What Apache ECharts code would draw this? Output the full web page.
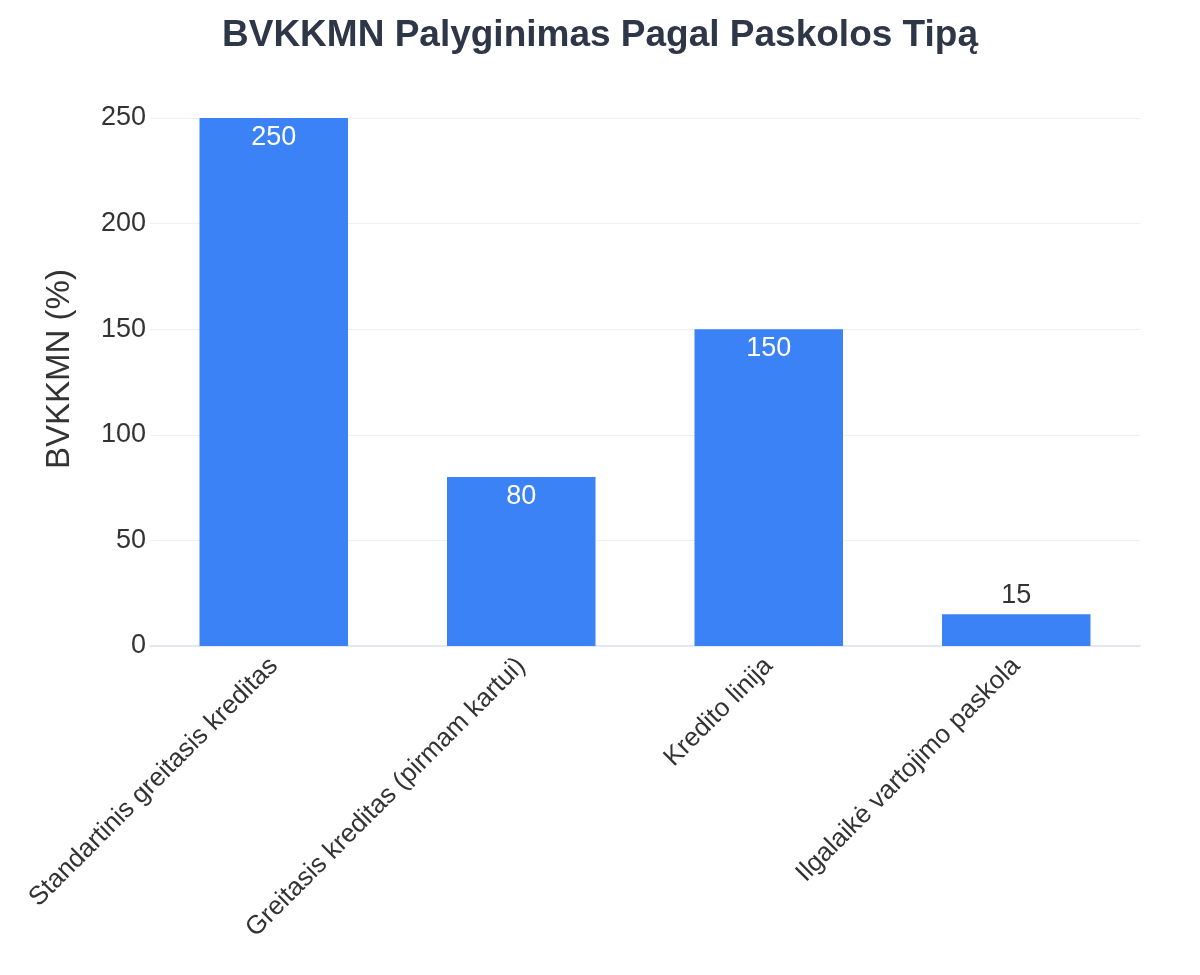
<!DOCTYPE html>
<html><head><meta charset="utf-8">
<script src="https://cdn.jsdelivr.net/npm/echarts@6/dist/echarts.min.js"></script>
<style>html,body{margin:0;padding:0;background:#fff}#c{width:1200px;height:975px}</style>
</head><body><div id="c"></div>
<script>
const categories = ["Standartinis greitasis kreditas","Greitasis kreditas (pirmam kartui)","Kredito linija","Ilgalaikė vartojimo paskola"];
const values = [250, 80, 150, 15];
const yTicks = [0, 50, 100, 150, 200, 250];
const FONT = "'Liberation Sans', Arial, sans-serif";
const chart = echarts.init(document.getElementById('c'));
chart.setOption({
  backgroundColor: '#ffffff',
  title: {text: 'BVKKMN Palyginimas Pagal Paskolos Tipą', left: 'center', top: 12,
    textStyle: {fontFamily: FONT, fontSize: 37, fontWeight: 'bold', color: '#2d3748'}},
  graphic: [{type: 'text', x: 60, y: 369, rotation: Math.PI / 2, z: 10,
    style: {text: 'BVKKMN (%)', font: "33px 'Liberation Sans', Arial, sans-serif", fill: '#333333',
      align: 'center', verticalAlign: 'middle'}}],
  grid: {left: 150, right: 60, top: 118, bottom: 329},
  xAxis: {type: 'category', data: categories,
    axisLine: {show: true, lineStyle: {color: '#e2e8f0', width: 2}},
    axisTick: {show: false},
    axisLabel: {rotate: 45, fontFamily: FONT, fontSize: 26, color: '#333333', margin: 16, interval: 0}},
  yAxis: {type: 'value', min: yTicks[0], max: yTicks[yTicks.length-1], interval: 50,
    axisLine: {show: false}, axisTick: {show: false},
    axisLabel: {fontFamily: FONT, fontSize: 27, color: '#333333', margin: 4},
    splitLine: {lineStyle: {color: '#edf1f7', width: 1}}},
  series: [{type: 'bar', barWidth: '60%',
    data: values.map(v => ({value: v,
      label: v >= 50 ? {position: 'insideTop', color: '#ffffff', distance: 6}
                     : {position: 'top', color: '#333333', distance: 5}})),
    itemStyle: {color: '#3b82f6'},
    label: {show: true, fontFamily: FONT, fontSize: 27}}]
});
</script></body></html>
